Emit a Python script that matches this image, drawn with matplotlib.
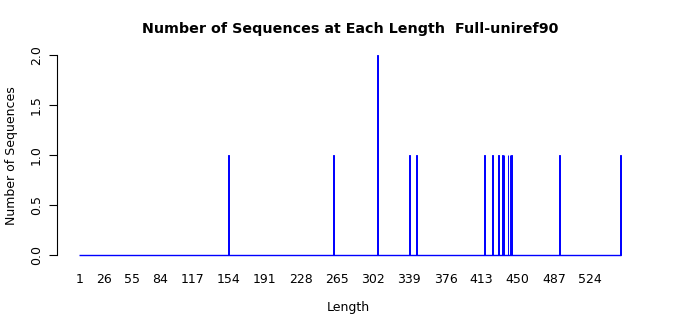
import numpy as np
import matplotlib.pyplot as plt

# lengths that have at least one sequence, and how many
seq_lengths = [154, 261, 306, 339, 346, 416, 424, 430, 434, 436, 440, 442, 444, 493, 555]
seq_counts = [1, 1, 2, 1, 1, 1, 1, 1, 1, 1, 1, 1, 1, 1, 1]
max_len = 555

tick_lengths = [1, 26, 55, 84, 117, 154, 191, 228, 265, 302, 339, 376, 413, 450, 487, 524]
y_ticks = [0.0, 0.5, 1.0, 1.5, 2.0]

all_lengths = np.arange(1, max_len + 1)

fig = plt.figure(figsize=(7, 3.15), dpi=100)
ax = fig.add_axes([57 / 700, 1 - 262 / 315, 583 / 700, 212 / 315])

# zero-height bars show up as the blue baseline in the original
ax.hlines(0, all_lengths[0] - 0.4, all_lengths[-1] + 0.4, color='blue', linewidth=1.0)
ax.bar(seq_lengths, seq_counts, width=0.8, color='blue', edgecolor='blue', linewidth=0.7)

px_per_unit = 0.9765
ax.set_xlim(1 - (79.3 - 57) / px_per_unit, 1 + (640 - 79.3) / px_per_unit)
ax.set_ylim(-7 / 99, 2 + 5 / 99)

for s in ['top', 'right', 'bottom']:
    ax.spines[s].set_visible(False)
ax.spines['left'].set_bounds(0, 2)
ax.spines['left'].set_linewidth(0.8)

ax.set_yticks(y_ticks)
ax.set_yticklabels([f"{v:.1f}" for v in y_ticks], rotation=90, va='center', fontsize=9)
ax.tick_params(axis='y', length=6, width=0.8, pad=4)

ax.set_xticks(tick_lengths)
ax.set_xticklabels([str(t) for t in tick_lengths], fontsize=9)
ax.tick_params(axis='x', length=0, pad=8)

ax.set_xlabel("Length", fontsize=9, labelpad=10.5)
ax.set_ylabel("Number of Sequences", fontsize=9, labelpad=9)
fig.text(350 / 700, 1 - 29 / 315, "Number of Sequences at Each Length  Full-uniref90",
         ha='center', va='center', fontsize=10.25, fontweight='bold')

fig.savefig("out.png", dpi=100)
